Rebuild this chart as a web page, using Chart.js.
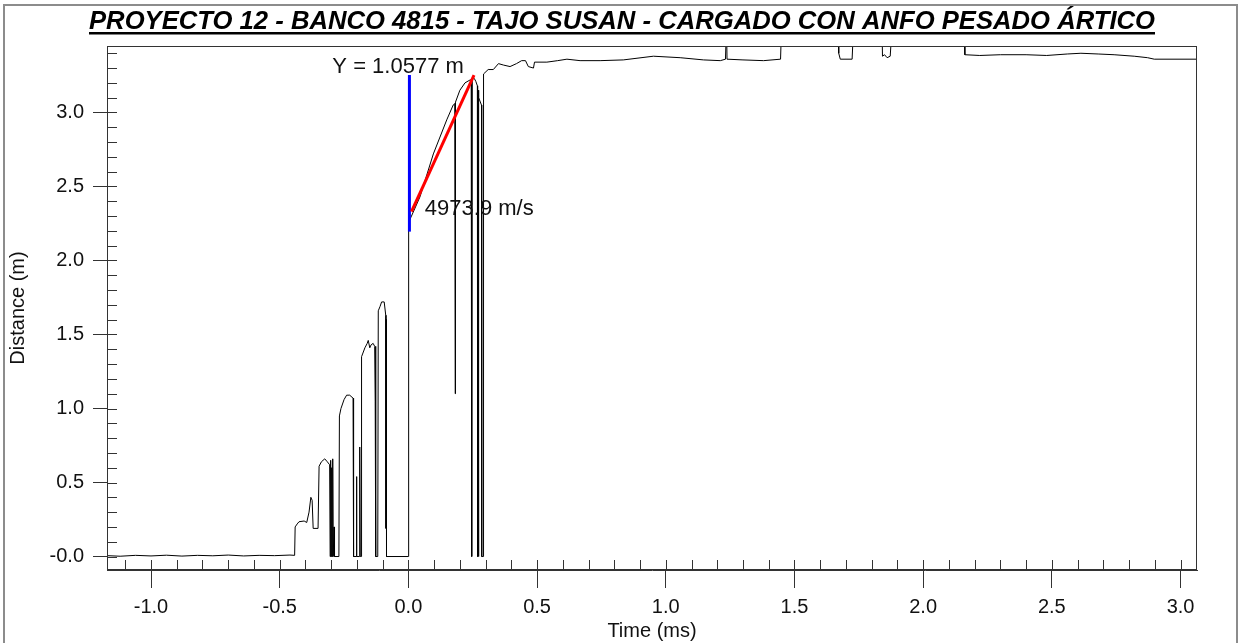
<!DOCTYPE html>
<html lang="es">
<head>
<meta charset="UTF-8" />
<title>Proyecto 12 - Banco 4815 - Tajo Susan</title>
<script src="https://cdn.jsdelivr.net/npm/chart.js"></script>
<style>
  body { margin: 0; background: #fff; }
  #vodChart { display: block; }
</style>
</head>
<body>
<canvas id="vodChart" width="1246" height="643"></canvas>
<script>
// trace: time (ms) and distance (m)
var traceTime = [
  -1.173, -1.12, -1.06, -1.0, -0.94, -0.88, -0.82, -0.76, -0.70, -0.64, -0.58, -0.52, -0.46, -0.442,
  -0.440, -0.432, -0.425, -0.405, -0.395, -0.386, -0.379, -0.374, -0.370, -0.351,
  -0.347, -0.338, -0.325, -0.315, -0.306, -0.304, -0.302, -0.300, -0.298, -0.296, -0.294, -0.292, -0.289, -0.287,
  -0.270, -0.268, -0.262, -0.250, -0.240, -0.228, -0.215, -0.213, -0.203, -0.202, -0.200, -0.190, -0.189, -0.187,
  -0.183, -0.182, -0.169, -0.160, -0.156, -0.150, -0.145, -0.137, -0.131, -0.129, -0.128, -0.126, -0.119,
  -0.117, -0.110, -0.104, -0.094, -0.088, -0.087, -0.086, -0.085, 0.0,
  0.001, 0.012, 0.045, 0.097, 0.149, 0.174, 0.180, 0.182, 0.183, 0.200, 0.220, 0.240,
  0.244, 0.245, 0.246, 0.247, 0.248, 0.256, 0.262, 0.268, 0.269, 0.271, 0.272, 0.274, 0.284, 0.285, 0.291, 0.292,
  0.310, 0.330, 0.350, 0.370, 0.395, 0.420, 0.440, 0.455, 0.466, 0.486, 0.490, 0.538, 0.580, 0.616, 0.667,
  0.745, 0.835, 0.952, 1.056, 1.147, 1.212, 1.232, 1.236, 1.238, 1.300, 1.380, 1.446, 1.450, 1.670, 1.672,
  1.678, 1.724, 1.730, 1.840, 1.842, 1.850, 1.860, 1.872, 1.880, 2.160, 2.162, 2.220, 2.300, 2.400, 2.480,
  2.560, 2.613, 2.680, 2.742, 2.820, 2.872, 2.898, 3.068
];
var traceDist = [
  0.006, 0.002, 0.008, 0.004, 0.009, 0.003, 0.008, 0.005, 0.010, 0.004, 0.008, 0.006, 0.010, 0.008,
  0.20, 0.22, 0.235, 0.24, 0.23, 0.30, 0.40, 0.38, 0.19, 0.19,
  0.61, 0.64, 0.66, 0.64, 0.62, 0.0, 0.65, 0.0, 0.60, 0.0, 0.66, 0.0, 0.20, 0.0,
  0.0, 0.95, 1.00, 1.06, 1.09, 1.09, 1.07, 0.0, 0.0, 0.54, 0.0, 0.0, 0.74, 0.0,
  0.0, 1.35, 1.41, 1.44, 1.46, 1.41, 1.43, 1.44, 1.42, 1.05, 1.42, 0.0, 0.0,
  1.66, 1.69, 1.72, 1.72, 1.63, 0.19, 1.60, 0.0, 0.0,
  2.26, 2.30, 2.43, 2.72, 2.95, 3.05, 3.06, 1.10, 3.07, 3.15, 3.20, 3.22,
  3.22, 0.0, 3.22, 0.0, 3.23, 3.23, 3.21, 3.18, 0.0, 3.15, 0.0, 3.10, 3.05, 0.0, 0.0, 3.26,
  3.29, 3.29, 3.33, 3.32, 3.31, 3.33, 3.35, 3.35, 3.31, 3.30, 3.34, 3.34, 3.35, 3.36, 3.35,
  3.35, 3.355, 3.38, 3.37, 3.355, 3.35, 3.36, 3.60, 3.36, 3.355, 3.35, 3.36, 3.60, 3.60, 3.40,
  3.36, 3.36, 3.60, 3.60, 3.38, 3.39, 3.37, 3.38, 3.60, 3.60, 3.39, 3.385, 3.39, 3.39, 3.385,
  3.395, 3.40, 3.395, 3.39, 3.38, 3.37, 3.36, 3.36
];

// measured distance (blue) and fitted velocity line (red)
var markTime = [0.004, 0.004];
var markDist = [2.195, 3.253];
var fitTime = [0.012, 0.255];
var fitDist = [2.33, 3.253];

var xRange = [-1.171, 3.064];
var yRange = [-0.091, 3.449];
var majorStep = 0.5;
var minorStep = 0.1;

var chartTitle = "PROYECTO 12 - BANCO 4815 - TAJO SUSAN - CARGADO CON ANFO PESADO ÁRTICO";
var markLabel = "Y = 1.0577 m";
var fitLabel = "4973.9 m/s";

function toPoints(xs, ys) {
  return xs.map(function (x, i) { return { x: x, y: ys[i] }; });
}

var axisFont = { family: "'Liberation Sans', Arial, sans-serif", size: 20 };

// page frame, plot box, inner ticks and the title
var framePlugin = {
  id: "frame",
  beforeDraw: function (chart) {
    var c = chart.ctx;
    c.save();
    c.fillStyle = "#fff";
    c.fillRect(0, 0, chart.width, chart.height);
    c.strokeStyle = "#8c8c8c";
    c.lineWidth = 2;
    c.strokeRect(4, 5, 1233, 660);
    c.restore();
  },
  afterDraw: function (chart) {
    var a = chart.chartArea, xs = chart.scales.x, ys = chart.scales.y, c = chart.ctx;
    c.save();
    c.strokeStyle = "#333";
    c.lineWidth = 1;
    c.strokeRect(a.left + 0.5, a.top + 0.5, a.right - a.left - 1, a.bottom - a.top - 1);
    c.beginPath();
    for (var k = Math.ceil(xs.min / minorStep); k * minorStep <= xs.max; k++) {
      var px = Math.round(xs.getPixelForValue(k * minorStep)) + 0.5;
      c.moveTo(px, a.bottom);
      c.lineTo(px, a.bottom - 10);
    }
    for (var j = Math.ceil(ys.min / minorStep); j * minorStep <= ys.max; j++) {
      var py = Math.round(ys.getPixelForValue(j * minorStep)) + 0.5;
      c.moveTo(a.left, py);
      c.lineTo(a.left + 10, py);
    }
    c.stroke();

    // title, squeezed to the width of the original heading
    c.fillStyle = "#000";
    c.font = "italic bold 26px 'Liberation Sans Narrow', 'Liberation Sans', Arial, sans-serif";
    c.textAlign = "center";
    c.textBaseline = "alphabetic";
    var w = c.measureText(chartTitle).width;
    c.translate(622, 29);
    c.scale(1066 / w, 1);
    c.fillText(chartTitle, 0, 0);
    c.restore();
    c.fillStyle = "#000";
    c.fillRect(89, 32, 1066, 2.5);
  }
};

// the two measurement labels, placed in data units
var labelPlugin = {
  id: "labels",
  afterDatasetsDraw: function (chart) {
    var xs = chart.scales.x, ys = chart.scales.y, c = chart.ctx;
    c.save();
    c.fillStyle = "#111";
    c.font = "22px 'Liberation Sans', Arial, sans-serif";
    c.textBaseline = "alphabetic";
    c.textAlign = "center";
    c.fillText(markLabel, xs.getPixelForValue(-0.04), ys.getPixelForValue(3.265));
    c.textAlign = "left";
    c.fillText(fitLabel, xs.getPixelForValue(0.064), ys.getPixelForValue(2.307));
    c.restore();
  }
};

new Chart(document.getElementById("vodChart").getContext("2d"), {
  type: "scatter",
  data: {
    datasets: [
      {
        label: "fit",
        data: toPoints(fitTime, fitDist),
        showLine: true,
        borderColor: "#ff0000",
        borderWidth: 3,
        pointRadius: 0,
        order: 1
      },
      {
        label: "mark",
        data: toPoints(markTime, markDist),
        showLine: true,
        borderColor: "#0000ff",
        borderWidth: 3,
        pointRadius: 0,
        order: 2
      },
      {
        label: "trace",
        data: toPoints(traceTime, traceDist),
        showLine: true,
        borderColor: "#000",
        borderWidth: 1,
        pointRadius: 0,
        tension: 0,
        order: 3
      }
    ]
  },
  options: {
    responsive: false,
    animation: false,
    devicePixelRatio: 1,
    layout: { padding: { top: 46, right: 49, left: 0, bottom: 0 } },
    plugins: {
      legend: { display: false },
      tooltip: { enabled: false }
    },
    scales: {
      x: {
        type: "linear",
        min: xRange[0],
        max: xRange[1],
        afterFit: function (s) { s.height = 73; },
        ticks: {
          stepSize: majorStep,
          includeBounds: false,
          autoSkip: false,
          maxRotation: 0,
          padding: 7,
          color: "#111",
          font: axisFont,
          callback: function (v) { return v.toFixed(1); }
        },
        grid: { drawOnChartArea: false, tickLength: 18, color: "#333" },
        border: { color: "#333" },
        title: { display: true, text: "Time (ms)", color: "#111", font: axisFont, padding: { top: 0, bottom: 0 } }
      },
      y: {
        type: "linear",
        min: yRange[0],
        max: yRange[1],
        afterFit: function (s) { s.width = 107; },
        ticks: {
          stepSize: majorStep,
          includeBounds: false,
          autoSkip: false,
          padding: 9,
          color: "#111",
          font: axisFont,
          callback: function (v) { return Math.abs(v) < 1e-9 ? "-0.0" : v.toFixed(1); }
        },
        grid: { drawOnChartArea: false, tickLength: 14, color: "#333" },
        border: { color: "#333" },
        title: { display: true, text: "Distance (m)", color: "#111", font: axisFont, padding: { top: 6, bottom: 0 } }
      }
    }
  },
  plugins: [framePlugin, labelPlugin]
});
</script>
</body>
</html>
